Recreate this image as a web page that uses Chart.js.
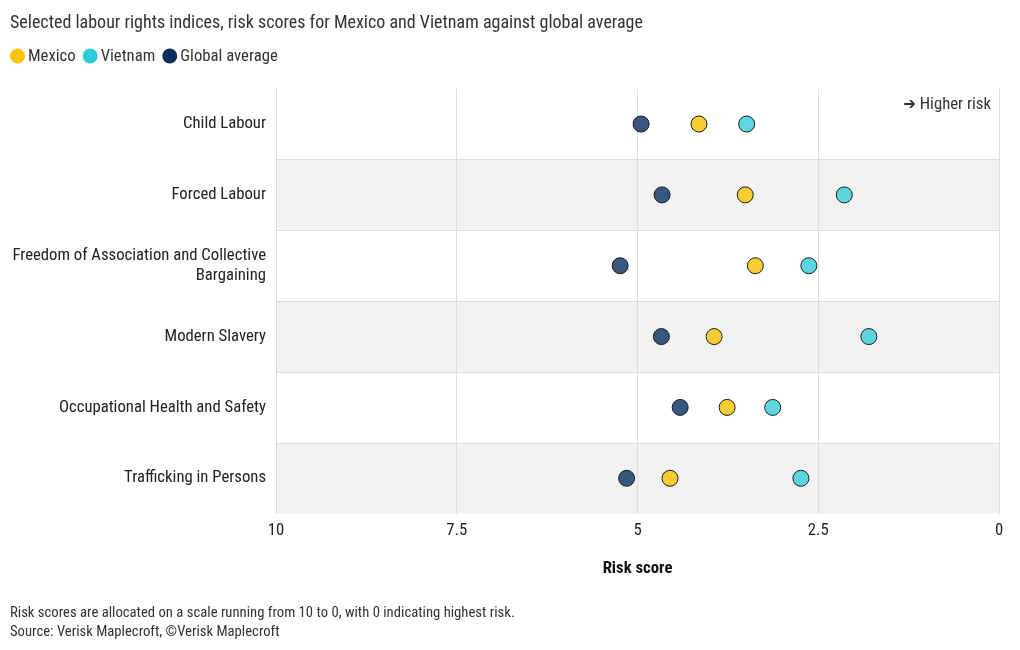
<!DOCTYPE html>
<html>
<head>
<meta charset="utf-8">
<script src="https://cdn.jsdelivr.net/npm/chart.js@4.4.1/dist/chart.umd.min.js"></script>
<style>
  html, body { margin: 0; padding: 0; background: #fff; }
  #wrap { width: 1020px; height: 650px; position: relative; }
</style>
</head>
<body>
<div id="wrap"><canvas id="riskChart" width="1020" height="650"></canvas></div>
<script>
// Chart data
var categories = [
    "Child Labour",
    "Forced Labour",
    "Freedom of Association and Collective Bargaining",
    "Modern Slavery",
    "Occupational Health and Safety",
    "Trafficking in Persons"
];
var mexicoScores  = [4.15, 3.51, 3.37, 3.94, 3.76, 4.55];
var vietnamScores = [3.49, 2.14, 2.63, 1.80, 3.13, 2.74];
var globalScores  = [4.95, 4.66, 5.24, 4.67, 4.41, 5.15];
var xTicks = [10, 7.5, 5, 2.5, 0];

var FONT = "'Roboto Condensed', 'Liberation Sans Narrow', 'DejaVu Sans Condensed', Roboto, sans-serif";
var TEXT = "#333333";
var LABEL_SIZE = 16.7;

// Split long category names onto two lines
function wrapLabel(text, maxChars) {
    if (text.length <= maxChars) return text;
    var cut = text.lastIndexOf(" ", maxChars);
    return [text.slice(0, cut), text.slice(cut + 1)];
}

function toPoints(values) {
    return values.map(function (v, i) { return { x: v, y: i }; });
}

// Alternating row bands, separators, the legend row and the "Higher risk" note
var rowBands = {
    id: "rowBands",
    beforeDraw: function (chart) {
        var ctx = chart.ctx;
        var area = chart.chartArea;
        var y = chart.scales.y;
        ctx.save();
        for (var i = 0; i < categories.length; i++) {
            var top = y.getPixelForValue(i - 0.5);
            var bottom = y.getPixelForValue(i + 0.5);
            if (i % 2 === 1) {
                ctx.fillStyle = "#f2f2f2";
                ctx.fillRect(area.left, top, area.right - area.left, bottom - top);
            }
            if (i > 0) {
                ctx.strokeStyle = "#dddddd";
                ctx.lineWidth = 1;
                ctx.beginPath();
                ctx.moveTo(area.left, Math.round(top) + 0.5);
                ctx.lineTo(area.right, Math.round(top) + 0.5);
                ctx.stroke();
            }
        }
        ctx.restore();
    },
    afterDraw: function (chart) {
        var ctx = chart.ctx;
        var area = chart.chartArea;
        ctx.save();
        ctx.font = LABEL_SIZE + "px " + FONT;
        ctx.fillStyle = TEXT;
        ctx.textAlign = "right";
        ctx.textBaseline = "middle";
        ctx.fillText("\u2794 Higher risk", area.right - 8, area.top + 16);

        // legend
        var x = 10, yMid = 56;
        ctx.textAlign = "left";
        chart.data.datasets.forEach(function (ds) {
            ctx.fillStyle = ds.legendColor;
            ctx.beginPath();
            ctx.arc(x + 7.5, yMid, 7.5, 0, Math.PI * 2);
            ctx.fill();
            ctx.fillStyle = TEXT;
            ctx.fillText(ds.label, x + 18, yMid + 0.5);
            x += 18 + ctx.measureText(ds.label).width + 7;
        });
        ctx.restore();
    }
};

function dotSet(label, values, fill, solid) {
    return {
        label: label,
        data: toPoints(values),
        backgroundColor: fill,
        borderColor: "#1a1a1a",
        borderWidth: 1,
        pointRadius: 8,
        pointHoverRadius: 8,
        legendColor: solid
    };
}

var ctx = document.getElementById("riskChart").getContext("2d");
var riskChart = new Chart(ctx, {
    type: "scatter",
    data: {
        datasets: [
            dotSet("Mexico", mexicoScores, "rgba(246, 200, 35, 0.92)", "#ffc40c"),
            dotSet("Vietnam", vietnamScores, "rgba(80, 210, 222, 0.92)", "#2ecad8"),
            dotSet("Global average", globalScores, "rgba(44, 78, 122, 0.95)", "#0c2d5e")
        ]
    },
    options: {
        responsive: false,
        animation: false,
        layout: { padding: { left: 10, right: 21, top: 0, bottom: 8 } },
        plugins: {
            title: {
                display: true,
                text: "Selected labour rights indices, risk scores for Mexico and Vietnam against global average",
                align: "start",
                color: TEXT,
                font: { family: FONT, size: 18, weight: "normal" },
                padding: { top: 13, bottom: 54 }
            },
            legend: { display: false },
            subtitle: {
                display: true,
                position: "bottom",
                align: "start",
                text: [
                    "Risk scores are allocated on a scale running from 10 to 0, with 0 indicating highest risk.",
                    "Source: Verisk Maplecroft, \u00a9Verisk Maplecroft"
                ],
                color: TEXT,
                font: { family: FONT, size: 14.7, lineHeight: 1.3 },
                padding: { top: 16, bottom: 0 }
            },
            tooltip: { enabled: false }
        },
        scales: {
            x: {
                type: "linear",
                reverse: true,
                min: 0,
                max: 10,
                afterBuildTicks: function (scale) {
                    scale.ticks = xTicks.map(function (v) { return { value: v }; });
                },
                ticks: {
                    color: "#222",
                    font: { family: FONT, size: LABEL_SIZE },
                    padding: 7,
                    maxRotation: 0
                },
                grid: { color: "#dddddd", drawTicks: false },
                border: { display: false },
                title: {
                    display: true,
                    text: "Risk score",
                    color: "#111",
                    font: { family: FONT, size: LABEL_SIZE, weight: "bold" },
                    padding: { top: 11, bottom: 9 }
                }
            },
            y: {
                type: "linear",
                reverse: true,
                min: -0.5,
                max: categories.length - 0.5,
                afterBuildTicks: function (scale) {
                    scale.ticks = categories.map(function (c, i) { return { value: i }; });
                },
                afterFit: function (scale) {
                    scale.width = 266;
                },
                ticks: {
                    color: "#222",
                    font: { family: FONT, size: LABEL_SIZE },
                    padding: 10,
                    callback: function (value) {
                        return wrapLabel(categories[value], 38);
                    }
                },
                grid: { display: false, drawTicks: false },
                border: { display: false }
            }
        }
    },
    plugins: [rowBands]
});
</script>
</body>
</html>
